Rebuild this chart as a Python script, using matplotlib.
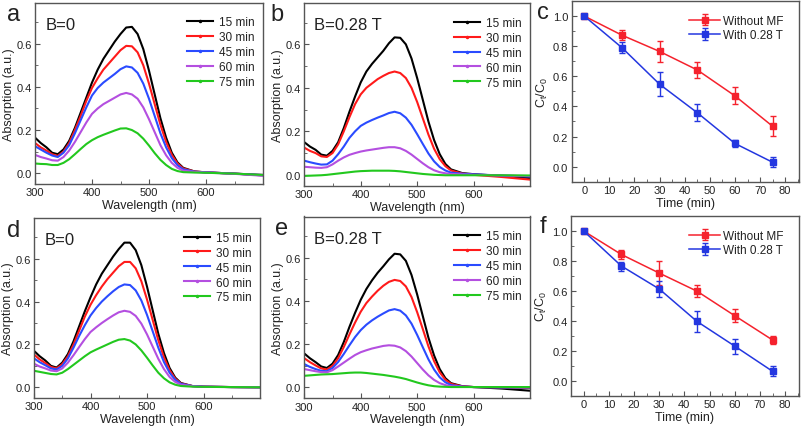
import numpy as np
import matplotlib
matplotlib.use("Agg")
import matplotlib.pyplot as plt
from matplotlib.ticker import MultipleLocator
from matplotlib.lines import Line2D

plt.rcParams['font.family'] = ['Liberation Sans', 'DejaVu Sans']
plt.rcParams['mathtext.fontset'] = 'custom'
plt.rcParams['mathtext.rm'] = 'Liberation Sans'
plt.rcParams['mathtext.it'] = 'Liberation Sans'

# ---------------- data ----------------
wavelength = [300, 310, 320, 330, 340, 350, 360, 370, 380, 390, 400, 410, 420, 430, 440,
              450, 460, 470, 480, 490, 500, 510, 520, 530, 540, 550, 560, 580, 600, 650, 700]
time_labels = ["15 min", "30 min", "45 min", "60 min", "75 min"]

# panel a: B=0
a_15 = [0.165, 0.14, 0.12, 0.095, 0.088, 0.11, 0.15, 0.21, 0.28, 0.35, 0.42, 0.48, 0.53, 0.57, 0.61,
        0.645, 0.675, 0.678, 0.645, 0.575, 0.475, 0.365, 0.255, 0.165, 0.095, 0.05, 0.025, 0.008, 0.004, -0.002, -0.01]
a_30 = [0.14, 0.12, 0.105, 0.088, 0.08, 0.1, 0.14, 0.2, 0.265, 0.335, 0.395, 0.44, 0.48, 0.51, 0.54,
        0.57, 0.59, 0.588, 0.56, 0.5, 0.415, 0.32, 0.225, 0.145, 0.085, 0.045, 0.022, 0.008, 0.004, -0.002, -0.008]
a_45 = [0.125, 0.11, 0.095, 0.082, 0.075, 0.095, 0.13, 0.185, 0.245, 0.305, 0.36, 0.395, 0.42, 0.44, 0.46,
        0.482, 0.495, 0.49, 0.465, 0.415, 0.345, 0.265, 0.185, 0.12, 0.07, 0.037, 0.018, 0.007, 0.004, -0.002, -0.008]
a_60 = [0.085, 0.075, 0.068, 0.06, 0.058, 0.075, 0.105, 0.145, 0.19, 0.235, 0.275, 0.3, 0.32, 0.335, 0.35,
        0.365, 0.372, 0.365, 0.345, 0.305, 0.25, 0.19, 0.13, 0.083, 0.048, 0.025, 0.012, 0.006, 0.003, -0.003, -0.012]
a_75 = [0.045, 0.043, 0.042, 0.038, 0.038, 0.048, 0.065, 0.088, 0.112, 0.135, 0.153, 0.167, 0.178, 0.188, 0.198,
        0.207, 0.208, 0.2, 0.185, 0.16, 0.128, 0.093, 0.062, 0.038, 0.02, 0.01, 0.005, 0.003, 0.002, -0.002, -0.008]

# panel b: B=0.28 T
b_15 = [0.15, 0.13, 0.115, 0.093, 0.088, 0.11, 0.15, 0.215, 0.29, 0.36, 0.425, 0.475, 0.51, 0.54, 0.57,
        0.605, 0.632, 0.63, 0.6, 0.535, 0.445, 0.345, 0.245, 0.16, 0.095, 0.05, 0.025, 0.008, 0.003, -0.005, -0.015]
b_30 = [0.125, 0.11, 0.1, 0.085, 0.082, 0.1, 0.14, 0.2, 0.265, 0.325, 0.37, 0.4, 0.42, 0.44, 0.455,
        0.468, 0.475, 0.468, 0.445, 0.4, 0.335, 0.26, 0.185, 0.12, 0.072, 0.04, 0.02, 0.006, 0.0, -0.01, -0.022]
b_45 = [0.065, 0.058, 0.052, 0.047, 0.048, 0.065, 0.095, 0.13, 0.17, 0.2, 0.225, 0.24, 0.252, 0.263, 0.273,
        0.284, 0.29, 0.283, 0.263, 0.23, 0.187, 0.142, 0.098, 0.062, 0.036, 0.02, 0.01, 0.005, 0.002, -0.003, -0.008]
b_60 = [0.037, 0.035, 0.033, 0.032, 0.035, 0.048, 0.065, 0.08, 0.092, 0.1, 0.107, 0.112, 0.116, 0.12, 0.124,
        0.127, 0.127, 0.122, 0.11, 0.093, 0.073, 0.053, 0.035, 0.021, 0.012, 0.007, 0.004, 0.002, 0.0, -0.003, -0.006]
b_75 = [-0.005, -0.004, -0.003, -0.002, 0.0, 0.003, 0.006, 0.009, 0.012, 0.015, 0.017, 0.018, 0.019, 0.019, 0.019,
        0.019, 0.018, 0.016, 0.013, 0.01, 0.007, 0.004, 0.002, 0.0, -0.001, -0.002, -0.002, -0.002, -0.002, -0.002, -0.003]

# panel d: B=0
d_15 = [0.17, 0.145, 0.125, 0.1, 0.092, 0.115, 0.155, 0.215, 0.285, 0.355, 0.42, 0.48, 0.53, 0.57, 0.61,
        0.645, 0.675, 0.675, 0.64, 0.57, 0.47, 0.36, 0.25, 0.16, 0.09, 0.045, 0.02, 0.006, 0.003, 0.001, 0.0]
d_30 = [0.153, 0.13, 0.113, 0.095, 0.088, 0.108, 0.145, 0.2, 0.265, 0.33, 0.385, 0.43, 0.47, 0.505, 0.535,
        0.565, 0.585, 0.585, 0.555, 0.495, 0.41, 0.315, 0.22, 0.14, 0.08, 0.04, 0.018, 0.006, 0.003, 0.001, 0.0]
d_45 = [0.135, 0.117, 0.103, 0.088, 0.083, 0.1, 0.135, 0.185, 0.24, 0.29, 0.335, 0.37, 0.4, 0.425, 0.448,
        0.468, 0.48, 0.477, 0.452, 0.405, 0.338, 0.262, 0.185, 0.118, 0.068, 0.035, 0.016, 0.006, 0.003, 0.001, 0.0]
d_60 = [0.11, 0.097, 0.088, 0.078, 0.075, 0.088, 0.115, 0.15, 0.188, 0.225, 0.258, 0.28, 0.3, 0.318, 0.335,
        0.35, 0.357, 0.352, 0.333, 0.297, 0.247, 0.19, 0.133, 0.085, 0.048, 0.025, 0.012, 0.005, 0.002, 0.001, 0.0]
d_75 = [0.077, 0.072, 0.067, 0.062, 0.06, 0.068, 0.085, 0.105, 0.125, 0.145, 0.163, 0.176, 0.188, 0.2, 0.212,
        0.222, 0.225, 0.218, 0.2, 0.172, 0.138, 0.102, 0.068, 0.042, 0.023, 0.012, 0.006, 0.003, 0.002, 0.001, 0.0]

# panel e: B=0.28 T
e_15 = [0.157, 0.135, 0.117, 0.097, 0.09, 0.11, 0.15, 0.21, 0.28, 0.345, 0.405, 0.455, 0.495, 0.53, 0.56,
        0.592, 0.618, 0.615, 0.585, 0.52, 0.43, 0.33, 0.23, 0.148, 0.085, 0.043, 0.02, 0.006, 0.002, -0.005, -0.015]
e_30 = [0.135, 0.117, 0.102, 0.088, 0.083, 0.1, 0.135, 0.187, 0.245, 0.3, 0.35, 0.39, 0.42, 0.447, 0.47,
        0.488, 0.497, 0.492, 0.467, 0.418, 0.348, 0.27, 0.19, 0.122, 0.07, 0.036, 0.017, 0.005, 0.002, 0.0, -0.002]
e_45 = [0.108, 0.095, 0.085, 0.077, 0.075, 0.09, 0.118, 0.155, 0.195, 0.233, 0.265, 0.29, 0.31, 0.327, 0.342,
        0.356, 0.362, 0.355, 0.333, 0.295, 0.243, 0.186, 0.13, 0.083, 0.047, 0.024, 0.011, 0.004, 0.002, 0.0, 0.0]
e_60 = [0.085, 0.08, 0.075, 0.071, 0.07, 0.08, 0.097, 0.115, 0.133, 0.15, 0.163, 0.172, 0.18, 0.186, 0.192,
        0.195, 0.193, 0.185, 0.168, 0.143, 0.113, 0.083, 0.056, 0.035, 0.02, 0.011, 0.006, 0.003, 0.002, 0.002, 0.002]
e_75 = [0.054, 0.056, 0.058, 0.06, 0.061, 0.062, 0.064, 0.066, 0.068, 0.069, 0.069, 0.067, 0.064, 0.061, 0.058,
        0.054, 0.05, 0.045, 0.039, 0.031, 0.023, 0.016, 0.01, 0.006, 0.004, 0.003, 0.002, 0.002, 0.002, 0.002, 0.002]

# kinetics
time_min = [0, 15, 30, 45, 60, 75]
c_without = [1.0, 0.873, 0.765, 0.642, 0.47, 0.268]
c_without_err = [0.0, 0.035, 0.067, 0.055, 0.056, 0.066]
c_with = [1.0, 0.79, 0.547, 0.358, 0.154, 0.029]
c_with_err = [0.0, 0.035, 0.079, 0.057, 0.026, 0.033]
f_without = [1.0, 0.843, 0.719, 0.598, 0.434, 0.272]
f_without_err = [0.0, 0.03, 0.08, 0.04, 0.045, 0.03]
f_with = [1.0, 0.766, 0.613, 0.396, 0.231, 0.063]
f_with_err = [0.0, 0.03, 0.052, 0.07, 0.05, 0.033]
series_labels = ["Without MF", "With 0.28 T"]

# ---------------- style ----------------
spec_colors = ["#000000", "#ff1a1a", "#2a4bff", "#b44fe0", "#22c81e"]
red_c = "#f5222d"
blue_c = "#2437e0"
spine_c = "#555555"
txt_c = "#222222"

fig = plt.figure(figsize=(8.03, 4.31), dpi=100)
W, H = 803.0, 431.0

def ax_px(l, r, t, b):
    return fig.add_axes([l / W, 1 - b / H, (r - l) / W, (b - t) / H])

def style(ax):
    for s in ax.spines.values():
        s.set_color(spine_c)
        s.set_linewidth(1.0)
    ax.tick_params(which='both', direction='in', top=False, right=False,
                   colors=spine_c, labelcolor=txt_c, labelsize=8, pad=2.5)
    ax.tick_params(which='major', length=3.5)
    ax.tick_params(which='minor', length=2)

def spectra(ax, curves, title):
    handles = []
    for y, c, lab in zip(curves, spec_colors, time_labels):
        ax.plot(wavelength, y, color=c, lw=1.5)
        handles.append(Line2D([], [], color=c, lw=1.5, marker='.', ms=3, label=lab))
    ax.set_xlim(300, 700)
    ax.set_ylim(-0.05, 0.79)
    ax.xaxis.set_minor_locator(MultipleLocator(50))
    ax.yaxis.set_major_locator(MultipleLocator(0.2))
    ax.yaxis.set_minor_locator(MultipleLocator(0.1))
    ax.set_xticks([300, 400, 500, 600])
    ax.set_xlabel("Wavelength (nm)", fontsize=9, color=txt_c, labelpad=1)
    ax.set_ylabel("Absorption (a.u.)", fontsize=9, color=txt_c, labelpad=1)
    ax.text(0.045, 0.88, title, transform=ax.transAxes, fontsize=12, color=txt_c,
            va='center', ha='left')
    leg = ax.legend(handles=handles, loc='upper right', frameon=False, fontsize=8.5,
                    handlelength=2.2, handletextpad=0.5, labelspacing=0.25,
                    borderaxespad=0.3, bbox_to_anchor=(1.0, 0.97))
    for t in leg.get_texts():
        t.set_color(txt_c)
    style(ax)

def kinetics(ax, y1, e1, y2, e2):
    ax.errorbar(time_min, y1, yerr=e1, color=red_c, marker='s', ms=4, lw=1.1,
                capsize=2.5, elinewidth=1.0, label=series_labels[0])
    ax.errorbar(time_min, y2, yerr=e2, color=blue_c, marker='s', ms=4, lw=1.1,
                capsize=2.5, elinewidth=1.0, label=series_labels[1])
    ax.set_xlim(-5, 85.5)
    ax.set_ylim(-0.1, 1.1)
    ax.xaxis.set_minor_locator(MultipleLocator(5))
    ax.yaxis.set_major_locator(MultipleLocator(0.2))
    ax.yaxis.set_minor_locator(MultipleLocator(0.1))
    ax.set_xticks(range(0, 81, 10))
    ax.set_xlabel("Time (min)", fontsize=9, color=txt_c, labelpad=1)
    ax.set_ylabel(r"$\mathregular{C_t/C_0}$", fontsize=9, color=txt_c, labelpad=2)
    leg = ax.legend(loc='upper right', frameon=False, fontsize=8.5, handlelength=2.6,
                    handletextpad=0.3, labelspacing=0.2, borderaxespad=0.3,
                    bbox_to_anchor=(0.97, 0.97))
    for t in leg.get_texts():
        t.set_color(txt_c)
    style(ax)

ax_a = ax_px(35, 263, 3.7, 185)
spectra(ax_a, [a_15, a_30, a_45, a_60, a_75], "B=0")
ax_b = ax_px(304.3, 530, 4, 186.7)
spectra(ax_b, [b_15, b_30, b_45, b_60, b_75], "B=0.28 T")
ax_c = ax_px(571.7, 799, 2, 182.7)
kinetics(ax_c, c_without, c_without_err, c_with, c_with_err)
ax_d = ax_px(34, 260, 219, 399)
spectra(ax_d, [d_15, d_30, d_45, d_60, d_75], "B=0")
ax_e = ax_px(304.3, 530, 217.5, 399.3)
spectra(ax_e, [e_15, e_30, e_45, e_60, e_75], "B=0.28 T")
ax_f = ax_px(571, 799, 217, 396.7)
kinetics(ax_f, f_without, f_without_err, f_with, f_with_err)

for letter, x, y in [("a", 7, 21), ("b", 270, 21), ("c", 537, 19),
                     ("d", 7, 237), ("e", 275, 235), ("f", 540, 233)]:
    fig.text(x / W, 1 - y / H, letter, fontsize=17, color=txt_c, ha='left', va='baseline')

fig.savefig("out.png", dpi=100, facecolor='white')
